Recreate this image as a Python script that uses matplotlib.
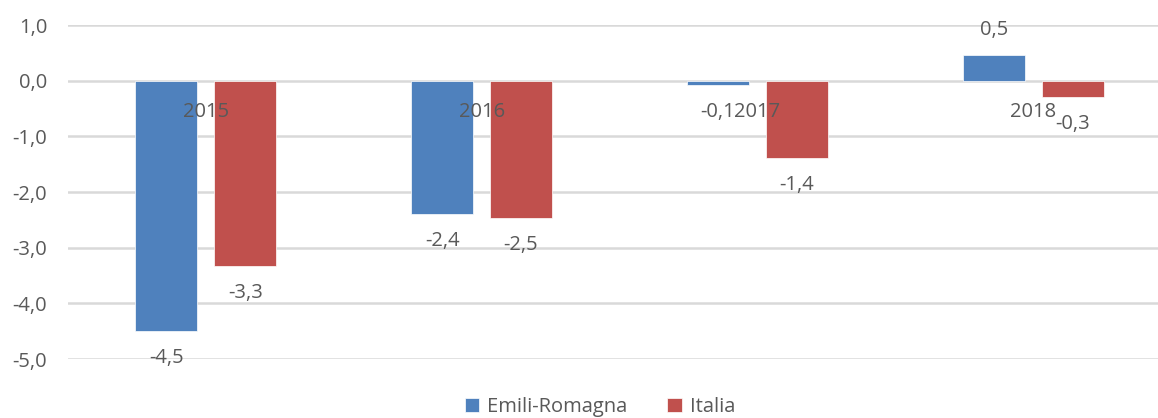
import matplotlib
matplotlib.use("Agg")
import matplotlib.pyplot as plt
import numpy as np

years = ["2015", "2016", "2017", "2018"]
emilia = [-4.49, -2.39, -0.07, 0.47]
italia = [-3.32, -2.46, -1.38, -0.29]
series_names = ["Emili-Romagna", "Italia"]
yticks = [1, 0, -1, -2, -3, -4, -5]

plt.rcParams['font.family'] = ['Open Sans', 'DejaVu Sans']
txt = '#595959'
fs = 14.5

fig = plt.figure(figsize=(11.58, 4.18), dpi=100)
ax = fig.add_axes([0.0587, 0.1411, 0.9525, 0.7989])

x = np.arange(len(years))
w = 0.225
off = 0.143
b1 = ax.bar(x - off, emilia, w, color='#4F81BD', edgecolor='white', linewidth=0.5, zorder=3, label=series_names[0])
b2 = ax.bar(x + off, italia, w, color='#C0504D', edgecolor='white', linewidth=0.5, zorder=3, label=series_names[1])

ax.set_xlim(-0.5, len(years) - 0.5)
ax.set_ylim(-5, 1)
ax.set_yticks(yticks)
ax.set_yticklabels([f"{v:.1f}".replace('.', ',') for v in yticks], color=txt, fontsize=fs)
ax.tick_params(axis='y', length=0, pad=15)
ax.set_xticks([])
ax.grid(axis='y', color='#D9D9D9', linewidth=1.8, zorder=0)
for s in ax.spines.values():
    s.set_visible(False)

for i, yv in enumerate(years):
    ax.text(i, -0.56, yv, ha='center', va='center', fontsize=fs, color=txt, zorder=5)

def fmt(v):
    return f"{v:.1f}".replace('.', ',')

for bars, vals in ((b1, emilia), (b2, italia)):
    for rect, v in zip(bars, vals):
        cx = rect.get_x() + rect.get_width() / 2
        dy = 25 if v >= 0 else -27
        ax.annotate(fmt(v), (cx, v), xytext=(0, dy), textcoords='offset pixels',
                    ha='center', va='center', fontsize=fs, color=txt, zorder=5)

leg = fig.legend(handles=[b1, b2], loc='center', bbox_to_anchor=(0.518, 0.027), ncol=2,
                 frameon=False, fontsize=fs, handlelength=0.7, handleheight=0.7,
                 handletextpad=0.4, columnspacing=2.0, borderpad=0.1)
for t in leg.get_texts():
    t.set_color(txt)

fig.savefig("out.png", dpi=100)
